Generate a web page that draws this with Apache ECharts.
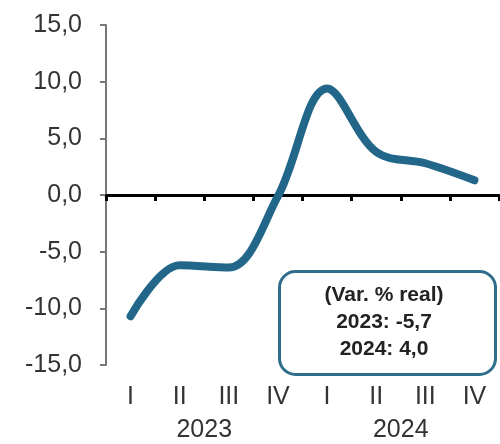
<!DOCTYPE html>
<html>
<head>
<meta charset="utf-8">
<script src="https://cdn.jsdelivr.net/npm/echarts@6/dist/echarts.min.js"></script>
<style>
  html, body { margin: 0; padding: 0; background: #fff; }
  #chart { width: 500px; height: 444px; }
</style>
</head>
<body>
<div id="chart"></div>
<script>
// trimestres y valores (var. % real)
const quarters = ['I', 'II', 'III', 'IV', 'I', 'II', 'III', 'IV'];
const years = ['2023', '2024'];
const values = [-10.7, -6.2, -6.4, -0.1, 9.4, 3.8, 2.8, 1.3];
const boxLines = ['(Var. % real)', '2023: -5,7', '2024: 4,0'];

const chart = echarts.init(document.getElementById('chart'));
const font = 'Liberation Sans, Arial, sans-serif';

const option = {
  animation: false,
  grid: { left: 106, right: 1, top: 25, bottom: 79 },
  xAxis: [{
    type: 'category',
    data: quarters,
    boundaryGap: true,
    axisLine: { onZero: true, lineStyle: { color: '#000', width: 3 } },
    axisTick: { show: true, length: 6, lineStyle: { color: '#000', width: 3 } },
    axisLabel: { show: false }
  }, {
    type: 'category',
    data: quarters,
    position: 'bottom',
    axisLine: { show: false },
    axisTick: { show: false },
    axisLabel: { margin: 20, fontSize: 25, color: '#333', fontFamily: font }
  }, {
    type: 'category',
    data: years,
    position: 'bottom',
    axisLine: { show: false },
    axisTick: { show: false },
    axisLabel: { margin: 53, fontSize: 25, color: '#333', fontFamily: font }
  }],
  yAxis: {
    type: 'value',
    min: -15,
    max: 15,
    interval: 5,
    splitLine: { show: false },
    axisLine: { show: true, lineStyle: { color: '#777', width: 2 } },
    axisTick: { show: true, length: 6, lineStyle: { color: '#777', width: 2 } },
    axisLabel: {
      margin: 24,
      fontSize: 25,
      color: '#333',
      fontFamily: font,
      formatter: v => v.toFixed(1).replace('.', ',')
    }
  },
  series: [{
    type: 'line',
    data: values,
    smooth: 0.35,
    symbol: 'none',
    lineStyle: { color: '#22678a', width: 8, cap: 'round' }
  }],
  graphic: [{
    type: 'rect',
    left: 278,
    top: 270,
    shape: { width: 216, height: 103, r: 16 },
    style: { fill: '#fff', stroke: '#2e6e8a', lineWidth: 3 },
    z: 10
  }, {
    type: 'text',
    x: 384,
    y: 322,
    style: {
      text: boxLines.join('\n'),
      align: 'center',
      verticalAlign: 'middle',
      lineHeight: 27,
      fontSize: 21,
      fontWeight: 'bold',
      fontFamily: font,
      fill: '#222'
    },
    z: 11
  }]
};

chart.setOption(option);
</script>
</body>
</html>
